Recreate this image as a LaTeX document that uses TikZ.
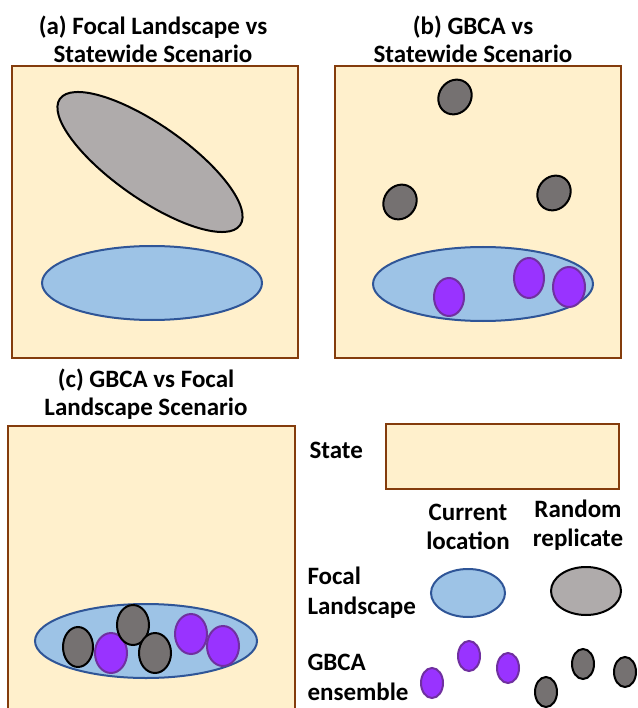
\documentclass[tikz,border=0pt]{standalone}
\usepackage{fontspec}
\setmainfont{Carlito}
\definecolor{beige}{HTML}{FFF0CC}
\definecolor{brownb}{HTML}{843C0C}
\definecolor{bluef}{HTML}{9DC3E6}
\definecolor{blueb}{HTML}{2F5597}
\definecolor{grayf}{HTML}{AFABAB}
\definecolor{dgrayf}{HTML}{757171}
\definecolor{purf}{HTML}{9933FF}
\definecolor{purb}{HTML}{7030A0}
\tikzset{
  statebox/.style={fill=beige, draw=brownb, line width=2.6pt},
  focal/.style={fill=bluef, draw=blueb, line width=2pt},
  randbig/.style={fill=grayf, draw=black, line width=2pt},
  randsmall/.style={fill=dgrayf, draw=black, line width=2pt},
  gbca/.style={fill=purf, draw=purb, line width=2pt},
  ttl/.style={font=\bfseries\fontsize{25}{28}\selectfont, align=center},
  lbl/.style={font=\bfseries\fontsize{25}{30}\selectfont, align=left, anchor=west},
  lblc/.style={font=\bfseries\fontsize{25}{29}\selectfont, align=center}
}
\begin{document}
\begin{tikzpicture}[x=1pt,y=-1pt]
\useasboundingbox (0,0) rectangle (637,708);
\fill[white] (0,0) rectangle (637,708);
% ---- panel (a)
\node[ttl] (ta) at (153,39) {(a) Focal Landscape vs\\Statewide Scenario};
\draw[statebox] (12,66) rectangle (298,358);
\draw[randbig, shift={(150,162)}, rotate=-35] (0,0) ellipse [x radius=110pt, y radius=37pt];
\draw[focal] (152,283) ellipse [x radius=110pt, y radius=37pt];
% ---- panel (b)
\node[ttl] (tb) at (473,39) {(b) GBCA vs\\Statewide Scenario};
\draw[statebox] (335,66) rectangle (621,358);
\draw[randsmall, shift={(455,97)}, rotate=55] (0,0) ellipse [x radius=18pt, y radius=16pt];
\draw[randsmall, shift={(400,202)}, rotate=55] (0,0) ellipse [x radius=18pt, y radius=16pt];
\draw[randsmall, shift={(554,193)}, rotate=55] (0,0) ellipse [x radius=18pt, y radius=16pt];
\draw[focal] (483,284) ellipse [x radius=110pt, y radius=37pt];
\draw[gbca] (449,297) ellipse [x radius=15pt, y radius=19pt];
\draw[gbca] (529,278) ellipse [x radius=15pt, y radius=20pt];
\draw[gbca] (569,287) ellipse [x radius=16pt, y radius=20pt];
% ---- panel (c)
\node[ttl] (tc) at (146,394) {(c) GBCA vs Focal\\Landscape Scenario};
\draw[statebox] (8,426) rectangle (295,714);
\draw[focal] (146,641) ellipse [x radius=111pt, y radius=37pt];
\draw[randsmall] (78,647) ellipse [x radius=15pt, y radius=20pt];
\draw[gbca] (111,653) ellipse [x radius=16pt, y radius=20pt];
\draw[randsmall] (133,625) ellipse [x radius=16pt, y radius=20pt];
\draw[randsmall] (155,653) ellipse [x radius=16pt, y radius=20pt];
\draw[gbca] (191,634) ellipse [x radius=16pt, y radius=20pt];
\draw[gbca] (223,646) ellipse [x radius=16pt, y radius=20pt];
% ---- legend
\node[lbl] (lstate) at (306,450) {State};
\draw[statebox] (386,424) rectangle (619,489);
\node[lblc] (lcur) at (468,527) {Current\\location};
\node[lblc] (lrand) at (578,525) {Random\\replicate};
\node[lbl] (lfocal) at (304,593) {Focal\\Landscape};
\draw[focal] (468,593) ellipse [x radius=37pt, y radius=24pt];
\draw[randbig] (586,591) ellipse [x radius=35pt, y radius=24pt];
\node[lbl] (lgbca) at (304,677) {GBCA\\ensemble};
\draw[gbca] (432,683) ellipse [x radius=11pt, y radius=15pt];
\draw[gbca] (469,656) ellipse [x radius=11pt, y radius=15pt];
\draw[gbca] (508,668) ellipse [x radius=11pt, y radius=15pt];
\draw[randsmall] (546,692) ellipse [x radius=11pt, y radius=15pt];
\draw[randsmall] (583,664) ellipse [x radius=11pt, y radius=15pt];
\draw[randsmall] (625,672) ellipse [x radius=11pt, y radius=15pt];
\end{tikzpicture}
\end{document}
